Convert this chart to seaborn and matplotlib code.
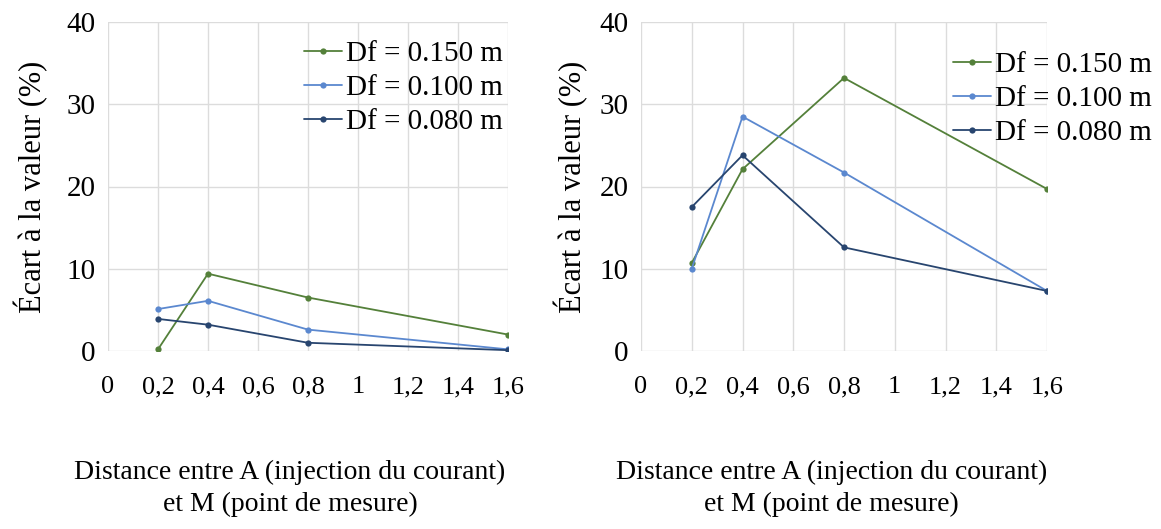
import matplotlib
matplotlib.use('Agg')
from matplotlib import pyplot as plt
import pandas as pd
import seaborn as sns

# distance entre A et M (m)
distances = [0.2, 0.4, 0.8, 1.6]
series_names = ['Df = 0.150 m', 'Df = 0.100 m', 'Df = 0.080 m']

# ecart a la valeur (%), graphique de gauche
left_df150 = [0.2, 9.4, 6.5, 2.0]
left_df100 = [5.1, 6.1, 2.6, 0.2]
left_df080 = [3.9, 3.2, 1.0, 0.1]

# ecart a la valeur (%), graphique de droite
right_df150 = [10.7, 22.1, 33.2, 19.7]
right_df100 = [10.0, 28.5, 21.7, 7.3]
right_df080 = [17.5, 23.8, 12.6, 7.3]

x_ticks = [0, 0.2, 0.4, 0.6, 0.8, 1.0, 1.2, 1.4, 1.6]
x_tick_labels = ['0', '0,2', '0,4', '0,6', '0,8', '1', '1,2', '1,4', '1,6']
y_ticks = [0, 10, 20, 30, 40]

colors = {'Df = 0.150 m': '#54803a', 'Df = 0.100 m': '#5b88cf', 'Df = 0.080 m': '#28456f'}


def to_frame(values):
    rows = []
    for name, vals in zip(series_names, values):
        for d, v in zip(distances, vals):
            rows.append({'distance': d, 'ecart': v, 'serie': name})
    return pd.DataFrame(rows)


sns.set_style('white')
plt.rcParams['font.family'] = ['Liberation Serif', 'DejaVu Serif']
plt.rcParams['text.color'] = 'black'
plt.rcParams['axes.labelcolor'] = 'black'
plt.rcParams['xtick.color'] = 'black'
plt.rcParams['ytick.color'] = 'black'

fig = plt.figure(figsize=(11.61, 5.29), dpi=100)
ax_left = fig.add_axes([108 / 1161, 178 / 529, 400 / 1161, 329 / 529])
ax_right = fig.add_axes([641 / 1161, 178 / 529, 406 / 1161, 329 / 529])

panels = [
    (ax_left, [left_df150, left_df100, left_df080], (503, 41), -0.15, 0.455),
    (ax_right, [right_df150, right_df100, right_df080], (1152, 52), -0.13, 0.470),
]
for ax, values, leg_pos, ylab_x, xlab_x in panels:
    df = to_frame(values)
    sns.lineplot(data=df, x='distance', y='ecart', hue='serie', hue_order=series_names,
                 palette=colors, marker='o', markersize=4.5, markeredgewidth=0,
                 linewidth=1.3, ax=ax)
    ax.set_xlim(0, 1.6)
    ax.set_ylim(0, 40)
    ax.set_xticks(x_ticks)
    ax.set_xticklabels(x_tick_labels)
    ax.set_yticks(y_ticks)
    ax.grid(True, color='#dcdcdc', linewidth=1)
    ax.set_axisbelow(True)
    for s in ax.spines.values():
        s.set_visible(False)
    ax.tick_params(axis='y', labelsize=21, length=0, pad=9)
    ax.tick_params(axis='x', labelsize=19, length=0, pad=18)
    ax.set_ylabel('Écart à la valeur (%)', fontsize=22)
    ax.yaxis.set_label_coords(ylab_x, 0.5)
    ax.set_xlabel('Distance entre A (injection du courant)\net M (point de mesure)',
                  fontsize=20, linespacing=1.35)
    ax.xaxis.set_label_coords(xlab_x, -0.331)
    ax.legend(loc='upper right', bbox_to_anchor=(leg_pos[0] / 1161, 1 - leg_pos[1] / 529),
              bbox_transform=fig.transFigure, frameon=False, fontsize=21,
              handlelength=1.3, handletextpad=0.15, labelspacing=0.25, borderaxespad=0,
              borderpad=0)

fig.savefig('out.png', dpi=100)
